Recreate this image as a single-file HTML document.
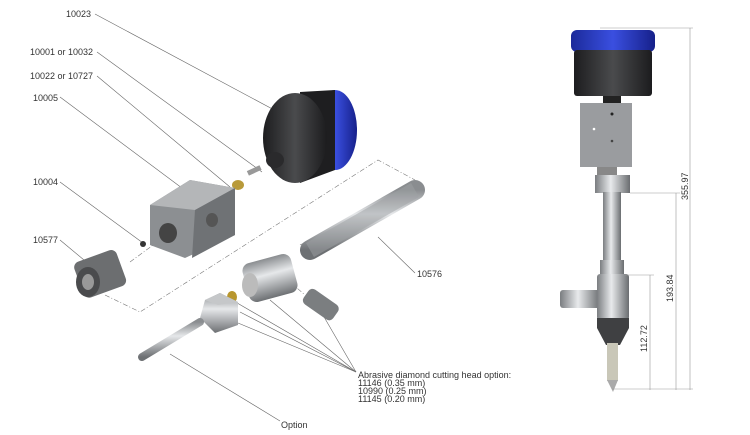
<!DOCTYPE html>
<html><head><meta charset="utf-8"><style>
html,body{margin:0;padding:0;background:#fff;}
svg{display:block;}
text{font-family:"Liberation Sans",sans-serif;fill:#333;}
</style></head><body>
<svg width="750" height="435" viewBox="0 0 750 435" xmlns="http://www.w3.org/2000/svg">
<defs>
<linearGradient id="steel" x1="0" y1="0" x2="0" y2="1"><stop offset="0" stop-color="#8a8d90"/><stop offset="0.4" stop-color="#e6e8ea"/><stop offset="1" stop-color="#6d7073"/></linearGradient>
<linearGradient id="steelh" x1="0" y1="0" x2="1" y2="0"><stop offset="0" stop-color="#7a7d80"/><stop offset="0.45" stop-color="#e8eaec"/><stop offset="1" stop-color="#6a6d70"/></linearGradient>
<linearGradient id="dark" x1="0" y1="0" x2="1" y2="0"><stop offset="0" stop-color="#1d1d1f"/><stop offset="0.5" stop-color="#4a4b4d"/><stop offset="1" stop-color="#1c1c1e"/></linearGradient>
<linearGradient id="blue" x1="0" y1="0" x2="1" y2="0"><stop offset="0" stop-color="#1b2a9a"/><stop offset="0.5" stop-color="#3a4fe0"/><stop offset="1" stop-color="#16208a"/></linearGradient>
</defs>
<g stroke="#666" stroke-width="0.6" fill="none">
<polyline points="95,14 278,112"/>
<polyline points="97,52 262,172"/>
<polyline points="97,76 230,187"/>
<polyline points="60,97 198,200"/>
<polyline points="60,182 143,243"/>
<polyline points="60,240 90,265"/>
<polyline points="415,273 378,237"/>
<polyline points="356,372 240,312"/><polyline points="356,372 238,323"/><polyline points="356,372 270,300"/><polyline points="356,372 320,310"/><polyline points="356,372 232,300"/>
<polyline points="280,421 170,354"/>
</g>
<g stroke="#777" stroke-width="0.6" fill="none" stroke-dasharray="5,2,1,2">
<polyline points="105,295 140,312 378,160 415,180"/>
<line x1="130" y1="262" x2="160" y2="240"/>
<line x1="300" y1="245" x2="310" y2="240"/>
<line x1="290" y1="282" x2="305" y2="295"/>
</g>
<!-- cap exploded -->
<ellipse cx="335" cy="130" rx="22" ry="40" fill="url(#blue)"/>
<path d="M300,92 L335,90 L335,170 L300,183 Z" fill="#1e1e20"/>
<ellipse cx="295" cy="138" rx="32" ry="45" fill="url(#dark)"/>
<ellipse cx="275" cy="160" rx="9" ry="8" fill="#2a2a2c"/>
<!-- small fittings -->
<rect x="247" y="168" width="14" height="5" fill="#999" transform="rotate(-25 254 170)"/>
<ellipse cx="238" cy="185" rx="6" ry="5" fill="#b89a3a"/>
<circle cx="143" cy="244" r="3" fill="#333"/>
<!-- block -->
<polygon points="150,205 190,180 235,188 235,235 185,258 150,245" fill="#8c8f92"/>
<polygon points="150,205 190,180 235,188 195,210" fill="#b4b6b8"/>
<polygon points="195,210 235,188 235,235 192,258" fill="#6f7275"/>
<ellipse cx="168" cy="233" rx="9" ry="10" fill="#444"/>
<ellipse cx="212" cy="220" rx="6" ry="7" fill="#555"/>
<!-- nut 10577 -->
<rect x="78" y="255" width="45" height="38" rx="6" fill="#6c6e70" transform="rotate(-20 100 275)"/>
<ellipse cx="88" cy="282" rx="12" ry="15" fill="#4a4b4d"/>
<ellipse cx="88" cy="282" rx="6" ry="8" fill="#999"/>
<!-- pipe 10576 -->
<line x1="310" y1="250" x2="415" y2="190" stroke="url(#steel)" stroke-width="20" stroke-linecap="round"/>
<line x1="310" y1="250" x2="415" y2="190" stroke="#9ea1a4" stroke-width="16" opacity="0.5"/>
<!-- body -->
<rect x="245" y="258" width="50" height="40" rx="8" fill="url(#steel)" transform="rotate(-15 270 278)"/>
<ellipse cx="250" cy="285" rx="8" ry="12" fill="#bbb"/>
<!-- small tube -->
<rect x="303" y="295" width="36" height="18" rx="5" fill="#7b7e80" transform="rotate(35 320 304)"/>
<!-- brass + cone -->
<ellipse cx="232" cy="297" rx="5" ry="6" fill="#b8962e"/>
<polygon points="205,300 220,293 238,302 238,325 215,333 200,318" fill="url(#steel)"/>
<polygon points="205,300 220,293 238,302 218,305" fill="#c5c7c9"/>
<!-- rod -->
<line x1="142" y1="357" x2="200" y2="322" stroke="url(#steel)" stroke-width="8" stroke-linecap="round"/>
<!-- right assembly -->
<rect x="571" y="30" width="84" height="22" rx="6" fill="url(#blue)"/>
<rect x="574" y="50" width="78" height="46" rx="3" fill="url(#dark)"/>
<rect x="603" y="96" width="18" height="8" fill="#222"/>
<rect x="580" y="103" width="52" height="64" fill="#9a9c9f"/>
<circle cx="612" cy="114" r="1.5" fill="#222"/><circle cx="594" cy="129" r="1.3" fill="#fff"/><circle cx="612" cy="141" r="1.3" fill="#444"/>
<rect x="597" y="167" width="20" height="10" fill="#888"/>
<rect x="595" y="175" width="35" height="18" fill="url(#steelh)"/>
<rect x="603" y="192" width="18" height="70" fill="url(#steelh)"/>
<rect x="600" y="260" width="24" height="16" fill="url(#steelh)"/>
<rect x="560" y="290" width="40" height="18" rx="3" fill="url(#steelh)"/>
<rect x="597" y="274" width="32" height="46" rx="3" fill="url(#steelh)"/>
<polygon points="597,318 629,318 629,328 620,345 606,345 597,328" fill="#3f4042"/>
<rect x="607" y="343" width="11" height="38" fill="#c9c7b8"/>
<polygon points="607,380 618,380 613,392" fill="#aaa"/>
<g stroke="#999" stroke-width="0.6" fill="none">
<line x1="600" y1="28" x2="693" y2="28"/><line x1="690" y1="28" x2="690" y2="390"/>
<line x1="630" y1="193" x2="680" y2="193"/><line x1="676" y1="193" x2="676" y2="390"/>
<line x1="625" y1="275" x2="654" y2="275"/><line x1="650" y1="275" x2="650" y2="390"/>
<line x1="612" y1="389" x2="693" y2="389"/>
</g>
<g font-size="9">
<text transform="translate(688,200) rotate(-90)" fill="#666">355.97</text>
<text transform="translate(673,302) rotate(-90)" fill="#666">193.84</text>
<text transform="translate(647,352) rotate(-90)" fill="#666">112.72</text>
</g>
<g font-size="9">
<text x="66" y="17">10023</text>
<text x="30" y="55">10001 or 10032</text>
<text x="30" y="79">10022 or 10727</text>
<text x="33" y="101">10005</text>
<text x="33" y="185">10004</text>
<text x="33" y="243">10577</text>
<text x="417" y="277">10576</text>
<text x="358" y="378">Abrasive diamond cutting head option:</text>
<text x="358" y="386">11146 (0.35 mm)</text>
<text x="358" y="394">10990 (0.25 mm)</text>
<text x="358" y="402">11145 (0.20 mm)</text>
<text x="281" y="428">Option</text>
</g>
</svg>
</body></html>
